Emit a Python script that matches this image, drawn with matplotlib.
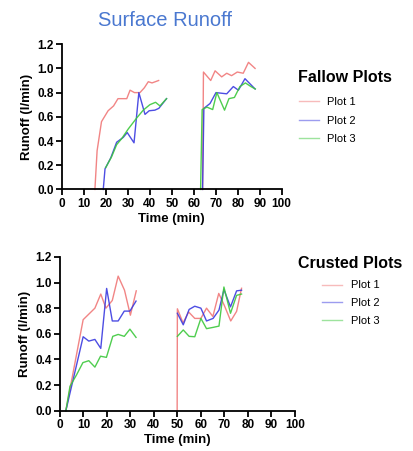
import matplotlib
matplotlib.use("Agg")
import matplotlib.pyplot as plt
from matplotlib.lines import Line2D

plt.rcParams['font.family'] = ['Liberation Sans', 'DejaVu Sans']

# ---------------- Fallow plots ----------------
fallow_p1_a_t = [15, 16, 18, 21, 23.5, 25.5, 28, 29.5, 31, 33, 35.5, 37.5, 39.3, 41, 44]
fallow_p1_a_v = [0.0, 0.32, 0.56, 0.65, 0.69, 0.75, 0.75, 0.75, 0.82, 0.80, 0.80, 0.84, 0.89, 0.88, 0.90]
fallow_p2_a_t = [18.8, 19.6, 22.2, 24.9, 27.9, 29.7, 32.8, 35, 37.8, 39.7, 42.3, 44.1, 47.6]
fallow_p2_a_v = [0.0, 0.17, 0.26, 0.39, 0.43, 0.47, 0.385, 0.80, 0.62, 0.65, 0.655, 0.67, 0.75]
fallow_p3_a_t = [19.9, 22.6, 24.9, 27.2, 30.2, 34, 37, 40, 42.6, 44.6, 47.6]
fallow_p3_a_v = [0.18, 0.27, 0.37, 0.42, 0.50, 0.59, 0.655, 0.70, 0.72, 0.69, 0.75]

fallow_p1_b_t = [64.0, 64.4, 67.7, 69.7, 72.7, 75, 77.2, 79.8, 82.5, 84.9, 87.9]
fallow_p1_b_v = [0.0, 0.97, 0.90, 0.98, 0.93, 0.96, 0.94, 0.97, 0.96, 1.05, 1.00]
fallow_p2_b_t = [64.0, 64.6, 67.4, 70.1, 75, 78, 80.3, 83.3, 87.9]
fallow_p2_b_v = [0.0, 0.67, 0.71, 0.80, 0.79, 0.85, 0.82, 0.915, 0.83]
fallow_p3_b_t = [63.1, 63.8, 66, 68.6, 70.5, 74, 76, 78.5, 81, 83.5, 86, 88]
fallow_p3_b_v = [0.0, 0.66, 0.68, 0.66, 0.80, 0.655, 0.75, 0.76, 0.85, 0.88, 0.85, 0.83]

# ---------------- Crusted plots ----------------
crust_p1_a_t = [2.55, 9.9, 14.9, 17.4, 19.6, 22.3, 24.8, 27.5, 30, 32.5]
crust_p1_a_v = [0.0, 0.71, 0.80, 0.91, 0.80, 0.86, 1.05, 0.94, 0.745, 0.935]
crust_p2_a_t = [2.55, 9.9, 12.3, 14.9, 17.4, 19.9, 22.3, 24.8, 27.4, 29.8, 32.4]
crust_p2_a_v = [0.0, 0.577, 0.543, 0.556, 0.486, 0.954, 0.70, 0.70, 0.777, 0.777, 0.855]
crust_p3_a_t = [2.55, 4.3, 7.1, 9.8, 12.3, 14.9, 17.3, 19.8, 22.5, 24.8, 27.4, 29.8, 32.4]
crust_p3_a_v = [0.0, 0.19, 0.28, 0.375, 0.39, 0.34, 0.425, 0.416, 0.58, 0.595, 0.58, 0.636, 0.572]

crust_p1_b_t = [49.9, 50.0, 52.4, 54.8, 57.4, 60, 62.4, 65.1, 67.6, 70, 72.7, 75.2, 77.3]
crust_p1_b_v = [0.0, 0.795, 0.685, 0.77, 0.72, 0.72, 0.80, 0.735, 0.915, 0.82, 0.70, 0.775, 0.955]
crust_p2_b_t = [50.0, 52.5, 55, 57.4, 60, 62.4, 65.2, 67.7, 69.8, 72.6, 75.2, 77.3]
crust_p2_b_v = [0.76, 0.67, 0.79, 0.815, 0.80, 0.70, 0.72, 0.785, 0.945, 0.81, 0.935, 0.94]
crust_p3_b_t = [50.0, 52.5, 55, 57.4, 60, 62.4, 65.2, 67.7, 69.8, 72.6, 75.2, 77.3]
crust_p3_b_v = [0.58, 0.63, 0.58, 0.577, 0.72, 0.64, 0.65, 0.66, 0.965, 0.76, 0.90, 0.91]

series_labels = ["Plot 1", "Plot 2", "Plot 3"]
colors = ["#F07878", "#3A3AE0", "#3CC83C"]
x_ticks = list(range(0, 101, 10))
y_ticks = [0.0, 0.2, 0.4, 0.6, 0.8, 1.0, 1.2]

fig = plt.figure(figsize=(4.13, 4.51), dpi=100)
ax1 = fig.add_axes([0.150, 0.580, 0.532, 0.322])
ax2 = fig.add_axes([0.145, 0.0894, 0.569, 0.341])

top_data = [
    [(fallow_p1_a_t, fallow_p1_a_v), (fallow_p1_b_t, fallow_p1_b_v)],
    [(fallow_p2_a_t, fallow_p2_a_v), (fallow_p2_b_t, fallow_p2_b_v)],
    [(fallow_p3_a_t, fallow_p3_a_v), (fallow_p3_b_t, fallow_p3_b_v)],
]
bot_data = [
    [(crust_p1_a_t, crust_p1_a_v), (crust_p1_b_t, crust_p1_b_v)],
    [(crust_p2_a_t, crust_p2_a_v), (crust_p2_b_t, crust_p2_b_v)],
    [(crust_p3_a_t, crust_p3_a_v), (crust_p3_b_t, crust_p3_b_v)],
]

for ax, data in ((ax1, top_data), (ax2, bot_data)):
    for col, segs in zip(colors, data):
        for t, v in segs:
            ax.plot(t, v, color=col, lw=1.0, alpha=0.9, clip_on=False)
    ax.set_xlim(0, 100)
    ax.set_ylim(0, 1.2)
    ax.set_xticks(x_ticks)
    ax.set_yticks(y_ticks)
    ax.set_yticklabels([f"{y:.1f}" for y in y_ticks])
    for s in ("top", "right"):
        ax.spines[s].set_visible(False)
    for s in ("left", "bottom"):
        ax.spines[s].set_linewidth(1.3)
    ax.tick_params(axis="both", direction="out", length=4, width=1.3, labelsize=8.5, pad=2)
    for lab in ax.get_xticklabels() + ax.get_yticklabels():
        lab.set_fontweight("bold")
    ax.set_xlabel("Time (min)", fontsize=9.5, fontweight="bold", labelpad=2)
    ax.set_ylabel("Runoff (l/min)", fontsize=9.5, fontweight="bold", labelpad=3)

fig.text(0.40, 0.955, "Surface Runoff", color="#4A78D0", fontsize=14.5,
         ha="center", va="center")

handles = [Line2D([], [], color=c, lw=1.0, alpha=0.5) for c in colors]

fig.text(0.722, 0.829, "Fallow Plots", fontsize=11.5, fontweight="bold",
         ha="left", va="center")
fig.legend(handles, series_labels, loc="upper left", bbox_to_anchor=(0.712, 0.795),
           frameon=False, fontsize=8, handlelength=1.8, handletextpad=0.8,
           labelspacing=0.78, borderaxespad=0)

fig.text(0.722, 0.416, "Crusted Plots", fontsize=11.5, fontweight="bold",
         ha="left", va="center")
fig.legend(handles, series_labels, loc="upper left", bbox_to_anchor=(0.768, 0.388),
           frameon=False, fontsize=8, handlelength=1.8, handletextpad=0.8,
           labelspacing=0.70, borderaxespad=0)

fig.savefig("out.png", dpi=100)
